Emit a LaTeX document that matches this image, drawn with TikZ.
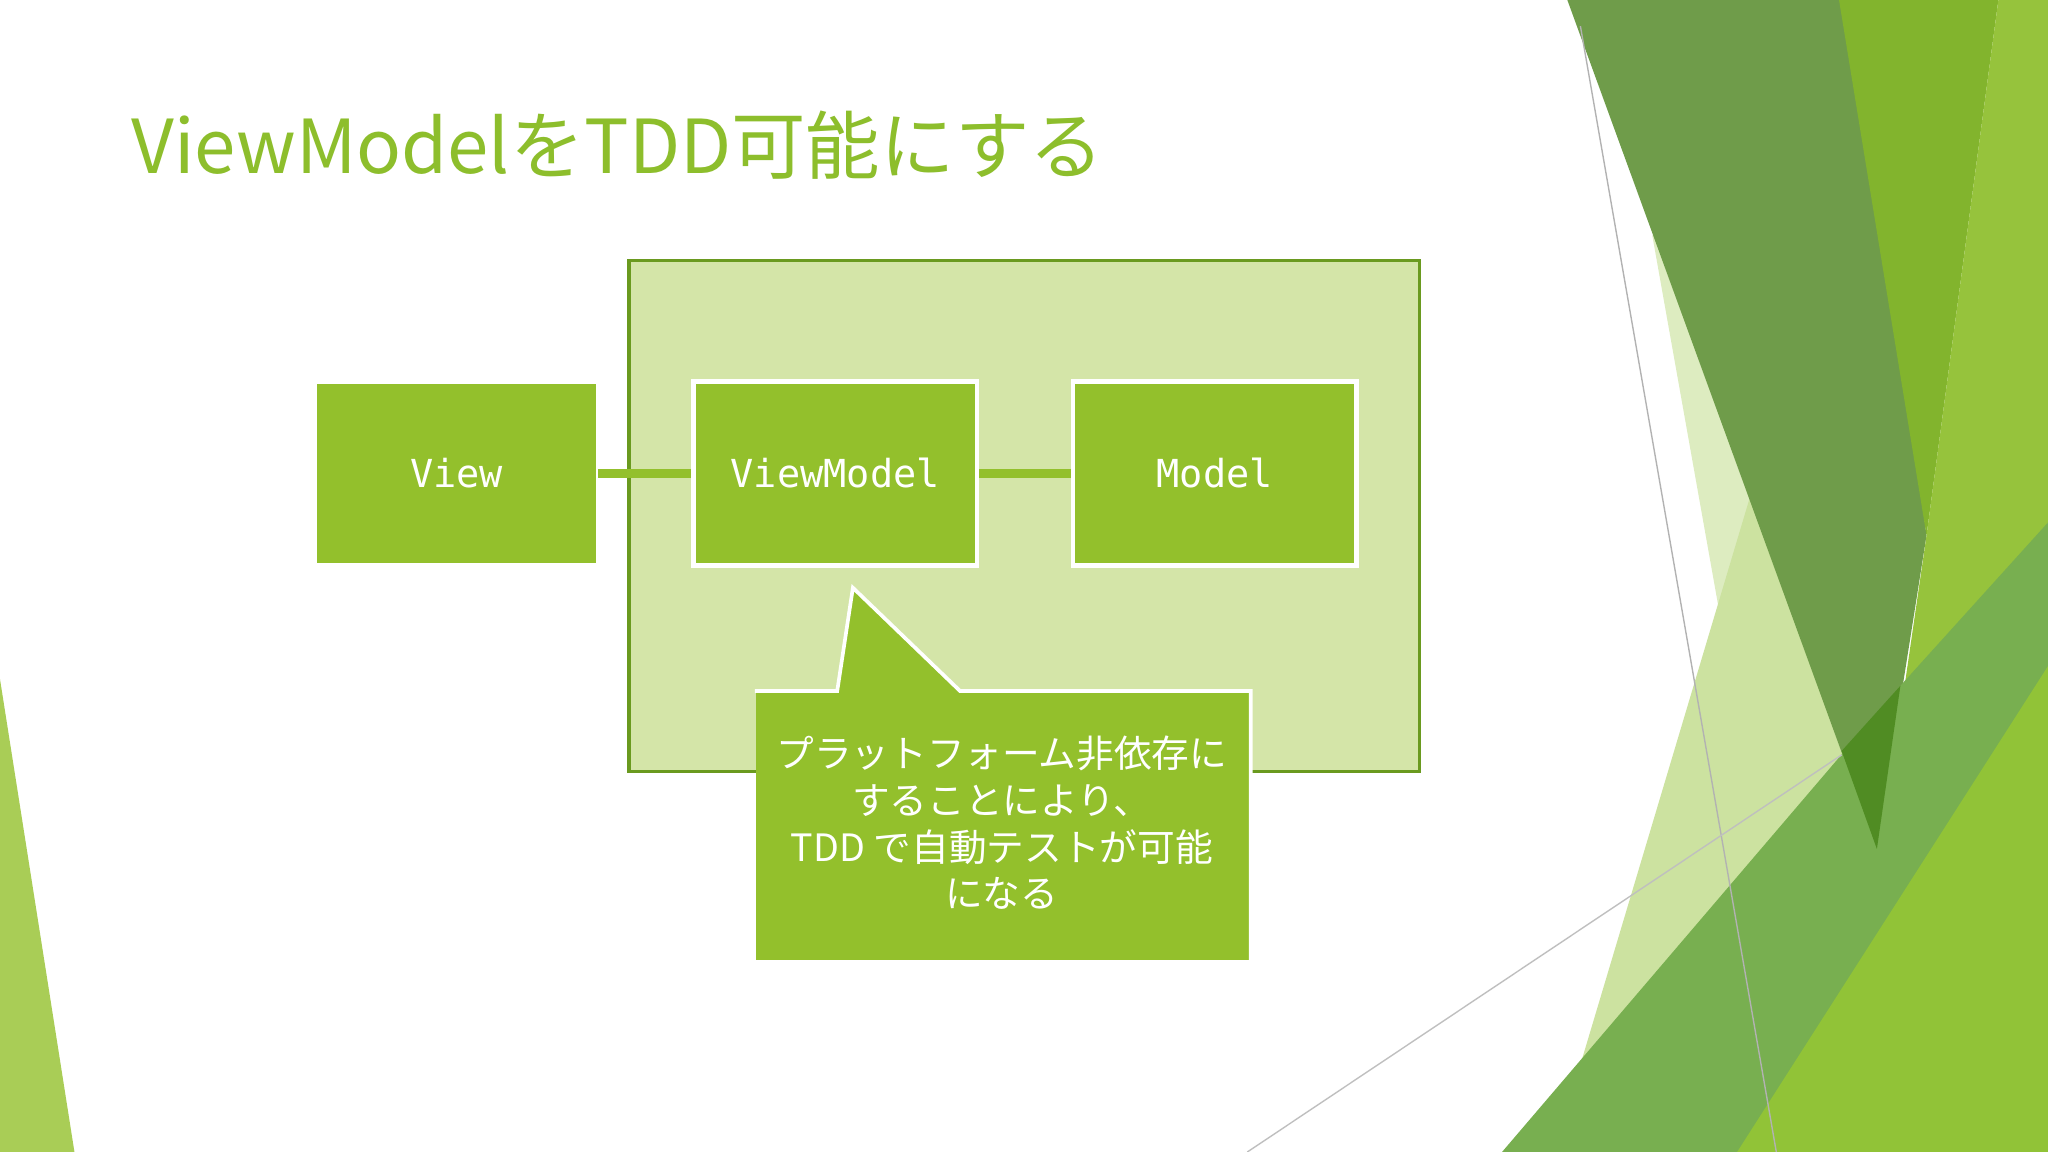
\documentclass[tikz,border=0pt]{standalone}
\usepackage{fontspec}
\newfontfamily\jp{Noto Sans CJK JP}
\newfontfamily\mono{DejaVu Sans Mono}
\definecolor{lg}{HTML}{93C02C}
\definecolor{pale}{HTML}{D4E5A8}
\definecolor{dk}{HTML}{6A9A1F}
\definecolor{tg}{HTML}{8DBE2C}
\begin{document}
\begin{tikzpicture}[x=0.01cm,y=-0.01cm,
  box/.style={fill=lg,draw=white,line width=1pt,minimum width=2.17cm,minimum height=1.41cm,text=white,font=\mono\fontsize{8.4}{10}\selectfont,inner sep=0},
  link/.style={draw=lg,line width=1.8pt}]
\fill[white] (0,0) rectangle (1568,882);
\useasboundingbox (0,0) rectangle (1568,882);
% decorations
\fill[lg!80!white] (0,520) -- (57,882) -- (0,882) -- cycle;
\fill[tg!30!white] (1265,180) -- (1410,300) -- (1460,882) -- (1390,882) -- cycle;
\fill[tg!45!white] (1190,882) -- (1340,380) -- (1420,520) -- (1440,882) -- cycle;
\fill[color={rgb,255:red,111;green,156;blue,74}] (1200,0) -- (1420,0) -- (1475,410) -- (1437,650) -- cycle;
\fill[color={rgb,255:red,130;green,180;blue,45}] (1408,0) -- (1530,0) -- (1475,410) -- cycle;
\fill[color={rgb,255:red,150;green,195;blue,60}] (1530,0) -- (1568,0) -- (1568,400) -- (1500,580) -- (1440,650) -- (1475,410) -- cycle;
\fill[color={rgb,255:red,120;green,175;blue,80}] (1150,882) -- (1455,525) -- (1568,400) -- (1568,882) -- cycle;
\fill[color={rgb,255:red,145;green,195;blue,55}] (1330,882) -- (1568,510) -- (1568,882) -- cycle;
\fill[color={rgb,255:red,80;green,140;blue,35}] (1410,575) -- (1455,525) -- (1437,650) -- cycle;
\draw[gray!60,line width=0.3pt] (1210,20) -- (1360,882);
\draw[gray!50,line width=0.3pt] (955,882) -- (1410,578);
% title
\node[anchor=base west,inner sep=0,text=tg,font=\jp\fontsize{16.2}{20}\selectfont] (title) at (100,133) {ViewModelをTDD可能にする};
% frame
\node[fill=pale,draw=dk,line width=0.8pt,minimum width=6.05cm,minimum height=3.91cm,anchor=north west,inner sep=0] (frame) at (480,198) {};
\node[box,draw=none,minimum width=2.13cm,minimum height=1.37cm] (view) at (349.5,362.5) {View};
\node[box] (vm) at (639.5,362.5) {ViewModel};
\node[box] (model) at (930,362.5) {Model};
\draw[link] (view) -- (vm);
\draw[link] (vm) -- (model);
% callout
\node[fill=lg,minimum width=3.78cm,minimum height=2.05cm,anchor=north west,inner sep=0] (call) at (578,529) {};
\fill[lg] (641,531) -- (653,450) -- (735,531) -- cycle;
\draw[white,line width=0.8pt] (call.north west) -- (641,529) -- (653,450) -- (735,529) -- (call.north east) -- (call.south east);
\node[text=white,align=center,font=\jp\fontsize{8.2}{10.2}\selectfont] (ctext) at (767,630) {プラットフォーム非依存に\\することにより、\\TDD で自動テストが可能\\になる};
\end{tikzpicture}
\end{document}
